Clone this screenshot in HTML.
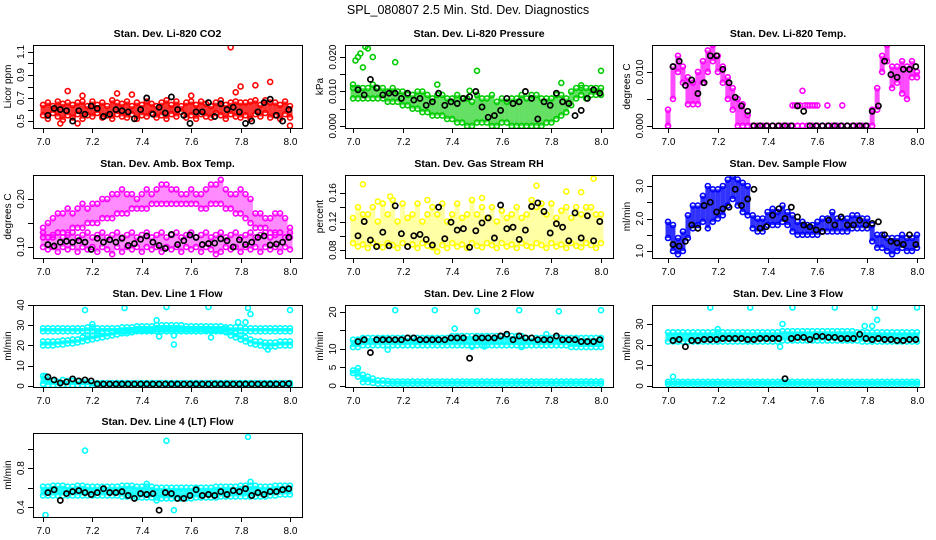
<!DOCTYPE html>
<html><head><meta charset="utf-8"><title>SPL_080807 Std. Dev. Diagnostics</title>
<style>
html,body{margin:0;padding:0;background:#fff;}
svg{display:block;font-family:"Liberation Sans",Arial,sans-serif;}
</style></head>
<body>
<svg id="chart" width="936" height="540" viewBox="0 0 936 540" xmlns="http://www.w3.org/2000/svg">
<rect width="936" height="540" fill="#fff"/>
<text x="468" y="14" text-anchor="middle" font-size="12.5">SPL_080807  2.5 Min. Std. Dev. Diagnostics</text>
</svg>
<script>
// ---- time axes (hours) ----
const TC = [7,7.02,7.04,7.06,7.08,7.1,7.12,7.14,7.16,7.18,7.2,7.22,7.24,7.26,7.28,7.3,7.32,7.34,7.36,7.38,7.4,7.42,7.44,7.46,7.48,7.5,7.52,7.54,7.56,7.58,7.6,7.62,7.64,7.66,7.68,7.7,7.72,7.74,7.76,7.78,7.8,7.82,7.84,7.86,7.88,7.9,7.92,7.94,7.96,7.98,8];
const TK = [7.02,7.045,7.07,7.095,7.12,7.145,7.17,7.195,7.22,7.245,7.27,7.295,7.32,7.345,7.37,7.395,7.42,7.445,7.47,7.495,7.52,7.545,7.57,7.595,7.62,7.645,7.67,7.695,7.72,7.745,7.77,7.795,7.82,7.845,7.87,7.895,7.92,7.945,7.97,7.995];
const xTicks = [7.0,7.2,7.4,7.6,7.8,8.0];

// ---- CO2 ----
const co2Hi = [0.64,0.66,0.63,0.67,0.65,0.66,0.64,0.66,0.67,0.63,0.67,0.64,0.66,0.63,0.68,0.66,0.65,0.67,0.63,0.66,0.64,0.67,0.65,0.63,0.66,0.68,0.64,0.67,0.63,0.66,0.67,0.64,0.67,0.65,0.63,0.66,0.68,0.64,0.66,0.67,0.66,0.66,0.67,0.68,0.64,0.68,0.66,0.66,0.64,0.67,0.63];
const co2Lo = [0.55,0.52,0.57,0.54,0.51,0.55,0.53,0.56,0.52,0.55,0.54,0.57,0.53,0.55,0.52,0.56,0.54,0.53,0.56,0.52,0.55,0.54,0.57,0.53,0.55,0.52,0.56,0.54,0.58,0.53,0.55,0.52,0.56,0.54,0.53,0.57,0.55,0.52,0.56,0.54,0.53,0.55,0.52,0.56,0.54,0.57,0.53,0.55,0.52,0.56,0.53];
const co2OutT = [7.1,7.16,7.3,7.36,7.6,7.76,7.78,7.8,7.86,7.92,8.0,7.07,7.14];
const co2OutV = [0.76,0.72,0.74,0.73,0.72,1.14,0.75,0.80,0.81,0.84,0.46,0.48,0.48];
const co2K = [0.55,0.61,0.60,0.59,0.50,0.59,0.56,0.63,0.61,0.54,0.56,0.60,0.59,0.58,0.52,0.60,0.70,0.56,0.62,0.57,0.71,0.60,0.55,0.48,0.58,0.58,0.66,0.54,0.65,0.60,0.62,0.58,0.48,0.50,0.58,0.66,0.69,0.55,0.50,0.60];
// ---- Pressure ----
const presHi = [0.011,0.011,0.011,0.011,0.012,0.011,0.011,0.010,0.011,0.010,0.010,0.009,0.009,0.010,0.010,0.009,0.008,0.009,0.009,0.008,0.008,0.009,0.008,0.008,0.007,0.009,0.008,0.008,0.009,0.007,0.008,0.007,0.008,0.008,0.009,0.008,0.009,0.009,0.008,0.008,0.008,0.009,0.009,0.008,0.010,0.011,0.011,0.011,0.011,0.011,0.011];
const presLo = [0.008,0.008,0.008,0.008,0.008,0.008,0.008,0.007,0.007,0.007,0.006,0.006,0.005,0.005,0.004,0.004,0.003,0.003,0.003,0.002,0.002,0.001,0.001,0.000,0.000,0.001,0.001,0.001,0.000,0.000,0.001,0.001,0.000,0.000,0.000,0.000,0.000,0.000,0.000,0.001,0.001,0.002,0.003,0.004,0.006,0.008,0.009,0.008,0.009,0.009,0.009];
const presOutT = [7.0,7.01,7.02,7.03,7.05,7.06,7.04,7.08,7.17,7.34,7.47,7.5,7.84,7.92,8.0];
const presOutV = [0.012,0.019,0.020,0.021,0.023,0.0225,0.017,0.020,0.0185,0.012,0.0102,0.016,0.0125,0.0118,0.016];
const presK = [0.0105,0.009,0.0135,0.011,0.009,0.0095,0.0095,0.008,0.0095,0.0075,0.008,0.006,0.007,0.0095,0.006,0.007,0.0065,0.008,0.0085,0.010,0.0055,0.0025,0.003,0.0045,0.008,0.0065,0.007,0.010,0.008,0.002,0.007,0.006,0.0095,0.007,0.0065,0.003,0.0045,0.008,0.0105,0.0095];
// ---- Li-820 Temp ----
const tempHi = [0.003,0.011,0.013,0.011,0.009,0.008,0.010,0.012,0.014,0.015,0.013,0.011,0.009,0.007,0.005,0.004,0.002,0,0,0,0,0,0,0,0,0,0,0,0,0,0,0,0,0,0,0,0,0,0,0,0,0.003,0.007,0.013,0.015,0.011,0.011,0.012,0.011,0.012,0.010];
const tempLo = [0,0.005,0.010,0.008,0.004,0.004,0.004,0.008,0.010,0.012,0.010,0.008,0.005,0.003,0,0,0,0,0,0,0,0,0,0,0,0,0,0,0,0,0,0,0,0,0,0,0,0,0,0,0,0,0.003,0.010,0.012,0.007,0.008,0.006,0.005,0.009,0.009];
const tempOutT = [7.5,7.51,7.52,7.53,7.54,7.55,7.56,7.57,7.58,7.59,7.6,7.64,7.7,7.0];
const tempOutV = [0.0038,0.0038,0.0038,0.0038,0.0065,0.0038,0.0038,0.0038,0.0038,0.0038,0.0038,0.0038,0.0038,0];
const tempK = [0.011,0.012,0.0075,0.0085,0.006,0.008,0.013,0.013,0.0105,0.008,0.0053,0.0037,0.0027,0,0,0,0,0,0,0,0.0037,0.0027,0,0,0,0,0,0,0,0,0,0,0.0027,0.0037,0.012,0.0095,0.009,0.0105,0.0105,0.011];
// ---- Amb Box Temp ----
const ambUpHi = [0.14,0.15,0.16,0.17,0.17,0.18,0.17,0.18,0.19,0.18,0.19,0.19,0.20,0.20,0.21,0.21,0.22,0.21,0.21,0.20,0.21,0.22,0.21,0.22,0.23,0.23,0.22,0.22,0.21,0.21,0.22,0.21,0.21,0.22,0.23,0.23,0.24,0.22,0.21,0.21,0.22,0.21,0.20,0.17,0.17,0.16,0.16,0.17,0.17,0.16,0.14];
const ambUpLo = [0.12,0.12,0.12,0.13,0.13,0.13,0.14,0.14,0.14,0.15,0.15,0.15,0.16,0.16,0.16,0.17,0.17,0.17,0.18,0.18,0.18,0.18,0.19,0.19,0.19,0.19,0.19,0.19,0.19,0.19,0.19,0.19,0.18,0.18,0.19,0.19,0.19,0.18,0.18,0.17,0.17,0.16,0.15,0.14,0.14,0.14,0.13,0.13,0.13,0.12,0.12];
const ambLowHi = [0.13,0.12,0.125,0.13,0.12,0.125,0.13,0.12,0.125,0.13,0.12,0.125,0.13,0.12,0.125,0.13,0.12,0.125,0.13,0.12,0.125,0.13,0.12,0.125,0.13,0.12,0.125,0.13,0.12,0.125,0.13,0.12,0.125,0.13,0.12,0.125,0.13,0.12,0.125,0.13,0.12,0.125,0.13,0.12,0.125,0.13,0.12,0.125,0.13,0.12,0.13];
const ambLowLo = [0.10,0.095,0.10,0.09,0.10,0.095,0.10,0.09,0.10,0.095,0.10,0.09,0.10,0.095,0.085,0.10,0.09,0.10,0.095,0.10,0.09,0.10,0.095,0.10,0.09,0.10,0.095,0.10,0.09,0.10,0.095,0.10,0.09,0.10,0.095,0.085,0.09,0.10,0.095,0.10,0.09,0.10,0.095,0.10,0.09,0.10,0.095,0.10,0.09,0.10,0.095];
const ambK = [0.105,0.102,0.11,0.112,0.11,0.113,0.11,0.095,0.118,0.11,0.115,0.11,0.118,0.103,0.107,0.116,0.123,0.11,0.103,0.097,0.126,0.105,0.113,0.125,0.12,0.105,0.107,0.108,0.117,0.113,0.10,0.115,0.105,0.11,0.12,0.123,0.104,0.106,0.11,0.12];
// ---- Gas Stream RH ----
const rhHi = [0.125,0.14,0.13,0.13,0.14,0.12,0.145,0.13,0.15,0.12,0.145,0.125,0.13,0.145,0.12,0.13,0.14,0.13,0.145,0.12,0.13,0.145,0.125,0.13,0.15,0.13,0.14,0.125,0.14,0.12,0.135,0.125,0.13,0.14,0.125,0.13,0.15,0.14,0.145,0.13,0.145,0.125,0.135,0.14,0.125,0.14,0.13,0.14,0.14,0.13,0.13];
const rhLo = [0.09,0.085,0.088,0.083,0.09,0.086,0.084,0.09,0.087,0.083,0.09,0.085,0.088,0.083,0.09,0.086,0.084,0.078,0.087,0.083,0.09,0.085,0.088,0.083,0.09,0.086,0.084,0.09,0.087,0.083,0.09,0.085,0.088,0.083,0.09,0.086,0.084,0.09,0.087,0.083,0.09,0.085,0.088,0.083,0.09,0.086,0.084,0.09,0.087,0.083,0.09];
const rhOutT = [7.04,7.15,7.74,7.86,7.92,7.97,7.1,7.3,7.52];
const rhOutV = [0.172,0.155,0.17,0.162,0.161,0.18,0.148,0.15,0.153];
const rhK = [0.10,0.12,0.094,0.085,0.105,0.086,0.142,0.103,0.085,0.10,0.102,0.095,0.087,0.14,0.096,0.119,0.108,0.11,0.084,0.107,0.118,0.125,0.097,0.143,0.11,0.112,0.095,0.108,0.141,0.146,0.134,0.104,0.117,0.112,0.093,0.132,0.097,0.128,0.093,0.12];
// ---- Sample Flow ----
const sfHi = [1.9,1.8,1.4,1.6,2.1,2.4,2.4,2.7,3.0,2.9,2.9,3.0,3.2,3.3,3.2,3.1,3.0,2.1,2.0,2.0,2.2,2.3,2.2,2.4,2.2,2.1,1.9,1.9,1.8,1.8,1.9,2.0,2.0,2.2,2.0,2.0,2.0,2.1,2.1,2.0,2.0,1.8,1.5,1.5,1.4,1.4,1.4,1.5,1.4,1.4,1.5];
const sfLo = [1.4,1.0,0.9,1.0,1.4,1.7,1.8,1.9,1.7,1.9,2.0,2.1,2.4,2.6,2.4,2.2,2.1,1.7,1.6,1.6,1.8,1.8,1.8,1.9,1.8,1.6,1.5,1.5,1.5,1.5,1.5,1.6,1.6,1.6,1.6,1.6,1.6,1.7,1.7,1.7,1.7,1.3,1.1,1.1,1.0,0.9,1.0,1.1,1.0,1.0,1.1];
const sfK = [1.2,1.15,1.3,1.8,1.7,2.4,2.5,2.2,2.3,2.35,2.9,2.4,2.6,2.9,1.7,1.75,2.1,2.3,2.0,2.35,2.05,1.8,1.75,1.65,1.6,1.95,1.8,2.05,1.8,1.8,1.95,1.8,1.85,1.9,1.5,1.3,1.25,1.2,1.5,1.2];
// ---- Line 1 ----
const l1TopHi = [28.5,28.5,28.5,28.5,28.5,28.5,28.5,28.5,28.5,29,29,28.5,28.5,28.5,28.5,28.5,29,29,29,29.5,29.5,29.5,29.5,30,30,30,30,30,30,29.5,29.5,29.5,29.5,29.5,29.5,29.5,29.5,29,29,29,29,28.5,28.5,28.5,28.5,28.5,28.5,28.5,28.5,28.5,28.5];
const l1TopLo = [27,27,27,27,27,27,27,27,27,27,27,27,27,27,27,27,27,27,27.5,27.5,27.5,27.5,27.5,28,28,28,28,28,28,28,28,28,28,27.5,27.5,27.5,27.5,27,27,27,27,27,27,27,27,27,27,27,27,27,27];
const l1MidHi = [22,22,22,22,22.5,22.5,23,23,24,25,25,25.5,26,26,26.5,27,27,27.5,27.5,28,28,28,28,28.5,28.5,28.5,28.5,28.5,28,28,28,28,28,28,28,28,28,28,27,26,25,24,23,22,22,21.5,21.5,21.5,22,22,22];
const l1MidLo = [20,20,20,20.5,20.5,21,21,21.5,22,22.5,23,23.5,24,24.5,25,25.5,26,26,26.5,27,27,27,27,27,27,27,27,27,27,27,27,27,27,27,27,27,27,26.5,25,24,23,22,21,20.5,20,19.5,19.5,19.5,20,20,20];
const l1LowHi = [5,3,2.5,2,3,2.5,2.5,2.5,2,2,1.5,1.5,1.5,1.5,1.5,1.5,1.5,1.5,1.5,1.5,1.5,1.5,1.5,1.5,1.5,1.5,1.5,1.5,1.5,1.5,1.5,1.5,1.5,1.5,1.5,1.5,1.5,1.5,1.5,1.5,1.5,1.5,1.5,1.5,1.5,1.5,1.5,1.5,1.5,1.5,1.5];
const l1LowLo = [1,0.5,0.5,0.5,0.5,0.5,0.5,0.5,0.5,0.5,0.5,0.5,0.5,0.5,0.5,0.5,0.5,0.5,0.5,0.5,0.5,0.5,0.5,0.5,0.5,0.5,0.5,0.5,0.5,0.5,0.5,0.5,0.5,0.5,0.5,0.5,0.5,0.5,0.5,0.5,0.5,0.5,0.5,0.5,0.5,0.5,0.5,0.5,0.5,0.5,0.5];
const l1OutT = [7.01,7.17,7.2,7.33,7.46,7.47,7.5,7.53,7.53,7.67,7.68,7.79,7.82,7.83,7.84,7.91,8.0];
const l1OutV = [5,37.5,30.5,38.5,32.5,24.5,39,25,20.5,39,24,31.5,31.5,38.5,35.5,18,37.5];
const l1K = [4.5,3,1.5,2,3.5,2.5,3,2.5,1,1,1,1,1,1,1,1,1,1,1,1,1,1,1,1,1,1,1,1,1,1,1,1,1,1,1,1,1,1,1,1.2];
// ---- Line 2 ----
const l2BandHi = [12.5,12.5,13,13,13,13,13,13,13,13,13,13,13,13,13,13,13,13,13,13,13.5,13.5,13.5,13.5,13.5,13.5,13.5,13.5,13.5,13.5,13.5,13.5,13.5,13.5,13.5,13,13,13,13,13,13,13,13,13,13,13,13,13,13,13,13];
const l2BandLo = [10.5,10.5,11,11,11,11,11,11,11,11,11,11,11,11,11,11,11,11,11,11,11,11,11,11,11,11,11,11,11,11,11,11,11,11,11,11,11,11,11,11,11,11,11,11,10.5,10.5,10.5,10.5,10.5,10.5,10.5];
const l2LowHi = [4.2,4.8,3,2.5,2,1.5,1.5,1.3,1.2,1.2,1.2,1.2,1.2,1.2,1.2,1.2,1.2,1.2,1.2,1.2,1.2,1.2,1.2,1.2,1.2,1.2,1.2,1.2,1.2,1.2,1.2,1.2,1.2,1.2,1.2,1.2,1.2,1.2,1.2,1.2,1.2,1.2,1.2,1.2,1.2,1.2,1.2,1.2,1.2,1.2,1.2];
const l2LowLo = [3.5,2.5,1,1,0.8,0.6,0.6,0.6,0.6,0.6,0.6,0.6,0.6,0.6,0.6,0.6,0.6,0.6,0.6,0.6,0.6,0.6,0.6,0.6,0.6,0.6,0.6,0.6,0.6,0.6,0.6,0.6,0.6,0.6,0.6,0.6,0.6,0.6,0.6,0.6,0.6,0.6,0.6,0.6,0.6,0.6,0.6,0.6,0.6,0.6,0.6];
const l2OutT = [7.17,7.33,7.5,7.67,7.83,8.0,7.41,7.14,7.53,7.68,7.48,7.78];
const l2OutV = [20.5,20.5,20.3,20.5,20.2,20.5,15.5,9.8,10.7,10.5,10.6,14];
const l2K = [12,12.5,9,12.5,12.5,12.5,12.5,12.5,13,13,12.5,12.5,12.5,12.5,12.5,13,13,13,7.5,13,13,13,13,13.5,14,12.5,13.5,13,13,12.5,12.5,12.5,13.5,12.5,12.5,12.5,12,12,12,12.5];
// ---- Line 3 ----
const l3BandHi = [26,26,26,26,26,26,26,26,26,26,26,26,26,26,26,26,26,26,26,26,26,26,26,26.5,26.5,26.5,26.5,26.5,26.5,26.5,26.5,26.5,26.5,26.5,26.5,26.5,26.5,26.5,26,26,26,26,26,26,26,26,26,26,26,26,26];
const l3BandLo = [21.5,21.5,21.5,21.5,21.5,21.5,21.5,21.5,21.5,21.5,21.5,21.5,21.5,21.5,21.5,21.5,21.5,21.5,21.5,21.5,21.5,21.5,21.5,22,22,22,22,22,22,22,22,22,22,22,22,22,22,22,22,21.5,21.5,21.5,21.5,21.5,21.5,21.5,21.5,21.5,21.5,21.5,21.5];
const l3LowHi = [2,2,2,2,2,2,2,2,2,2,2,2,2,2,2,2,2,2,2,2,2,2,2,2,2,2,2,2,2,2,2,2,2,2,2,2,2,2,2,2,2,2,2,2,2,2,2,2,2,2,2];
const l3LowLo = [1,1,1,1,1,1,1,1,1,1,1,1,1,1,1,1,1,1,1,1,1,1,1,1,1,1,1,1,1,1,1,1,1,1,1,1,1,1,1,1,1,1,1,1,1,1,1,1,1,1,1];
const l3OutT = [7.17,7.33,7.5,7.67,7.83,8.0,7.02,7.46,7.45,7.79,7.82,7.84,7.2];
const l3OutV = [38,38,38,38,38,38,4.5,30,19,29,29,32,27.5];
const l3K = [22,22.5,19,22,22,22.5,22.5,22.5,23,23,23,23,22.5,22.5,23,23,23,23,3.5,23,23.5,23.5,22.5,24,24,23.5,23.5,23,23,23,25,23,22.5,23,22.5,22.5,22,22,22.5,22.5];
// ---- Line 4 ----
const l4BandHi = [0.61,0.61,0.62,0.62,0.62,0.61,0.61,0.62,0.62,0.61,0.61,0.61,0.61,0.61,0.61,0.61,0.62,0.62,0.62,0.61,0.61,0.61,0.61,0.6,0.6,0.6,0.6,0.6,0.6,0.6,0.6,0.6,0.6,0.6,0.6,0.61,0.61,0.61,0.61,0.61,0.62,0.62,0.62,0.62,0.61,0.61,0.61,0.62,0.62,0.62,0.62];
const l4BandLo = [0.52,0.52,0.52,0.52,0.52,0.52,0.52,0.52,0.52,0.52,0.52,0.52,0.52,0.52,0.52,0.52,0.51,0.51,0.51,0.5,0.5,0.5,0.5,0.5,0.49,0.49,0.49,0.49,0.49,0.49,0.49,0.5,0.5,0.5,0.5,0.5,0.51,0.51,0.51,0.51,0.51,0.51,0.51,0.51,0.51,0.51,0.52,0.52,0.53,0.53,0.53];
const l4OutT = [7.17,7.5,7.83,7.01,7.53,7.84,7.42,7.46];
const l4OutV = [0.98,1.08,1.12,0.32,0.37,0.66,0.64,0.47];
const l4K = [0.55,0.58,0.47,0.54,0.56,0.57,0.55,0.53,0.55,0.59,0.55,0.55,0.56,0.52,0.49,0.54,0.53,0.54,0.37,0.55,0.54,0.49,0.49,0.52,0.58,0.52,0.53,0.52,0.56,0.53,0.57,0.56,0.59,0.52,0.55,0.53,0.56,0.56,0.58,0.59];

// ---- layout (not data) ----
const COLS = [{l:33,r:302,x7:43,x8:290},{l:345,r:613,x7:353,x8:601},{l:652,r:924,x7:668,x8:917}];
const ROWS = [{t:45,b:128},{t:175,b:258},{t:305,b:387},{t:433,b:517}];

const panels = [
 {name:'co2',title:'Stan. Dev. Li-820 CO2',ylab:'Licor ppm',col:0,row:0,y0:0.44,y1:1.16,ticks:[0.5,0.6,0.7,0.8,0.9,1.0,1.1],labs:[0.5,0.7,0.9,1.1],dec:1,color:'#ff0000',op:0.8,
  bands:[[co2Hi,co2Lo]],out:[co2OutT,co2OutV],k:co2K},
 {name:'pressure',title:'Stan. Dev. Li-820 Pressure',ylab:'kPa',col:1,row:0,y0:-0.0006,y1:0.0235,ticks:[0,0.005,0.01,0.015,0.02],labs:[0,0.01,0.02],dec:3,color:'#00cc00',op:0.6,
  bands:[[presHi,presLo]],out:[presOutT,presOutV],k:presK},
 {name:'li820-temp',title:'Stan. Dev. Li-820 Temp.',ylab:'degrees C',col:2,row:0,y0:-0.0004,y1:0.015,ticks:[0,0.005,0.01],labs:[0,0.01],dec:3,color:'#ff00ff',op:0.7,
  bands:[[tempHi,tempLo]],out:[tempOutT,tempOutV],k:tempK},
 {name:'amb-box-temp',title:'Stan. Dev. Amb. Box Temp.',ylab:'degrees C',col:0,row:1,y0:0.077,y1:0.25,ticks:[0.1,0.15,0.2],labs:[0.1,0.2],dec:2,color:'#ff00ff',op:0.45,
  bands:[[ambUpHi,ambUpLo],[ambLowHi,ambLowLo]],out:null,k:ambK},
 {name:'gas-stream-rh',title:'Stan. Dev. Gas Stream RH',ylab:'percent',col:1,row:1,y0:0.069,y1:0.185,ticks:[0.08,0.1,0.12,0.14,0.16],labs:[0.08,0.12,0.16],dec:2,color:'#ffff00',op:0.35,
  bands:[[rhHi,rhLo]],out:[rhOutT,rhOutV],k:rhK},
 {name:'sample-flow',title:'Stan. Dev. Sample Flow',ylab:'ml/min',col:2,row:1,y0:0.785,y1:3.34,ticks:[1,1.5,2,2.5,3],labs:[1,2,3],dec:1,color:'#0000ff',op:0.8,
  bands:[[sfHi,sfLo]],out:null,k:sfK},
 {name:'line1-flow',title:'Stan. Dev. Line 1 Flow',ylab:'ml/min',col:0,row:2,y0:-0.5,y1:40,ticks:[0,10,20,30,40],labs:[0,10,20,30,40],dec:0,color:'#00ffff',op:0.85,
  bands:[[l1TopHi,l1TopLo],[l1MidHi,l1MidLo],[l1LowHi,l1LowLo]],out:[l1OutT,l1OutV],k:l1K},
 {name:'line2-flow',title:'Stan. Dev. Line 2 Flow',ylab:'ml/min',col:1,row:2,y0:-0.3,y1:21.9,ticks:[0,5,10,15,20],labs:[0,5,10,20],dec:0,color:'#00ffff',op:0.85,
  bands:[[l2BandHi,l2BandLo],[l2LowHi,l2LowLo]],out:[l2OutT,l2OutV],k:l2K},
 {name:'line3-flow',title:'Stan. Dev. Line 3 Flow',ylab:'ml/min',col:2,row:2,y0:-0.5,y1:39.2,ticks:[0,10,20,30],labs:[0,10,20,30],dec:0,color:'#00ffff',op:0.85,
  bands:[[l3BandHi,l3BandLo],[l3LowHi,l3LowLo]],out:[l3OutT,l3OutV],k:l3K},
 {name:'line4-lt-flow',title:'Stan. Dev. Line 4 (LT) Flow',ylab:'ml/min',col:0,row:3,y0:0.30,y1:1.16,ticks:[0.4,0.6,0.8,1.0],labs:[0.4,0.8],dec:1,color:'#00ffff',op:0.85,
  bands:[[l4BandHi,l4BandLo]],out:[l4OutT,l4OutV],k:l4K}
];

const NS = 'http://www.w3.org/2000/svg';
const svg = document.getElementById('chart');
function mk(tag, attrs, parent){
  const e = document.createElementNS(NS, tag);
  for (const a in attrs) e.setAttribute(a, attrs[a]);
  parent.appendChild(e);
  return e;
}
function circ(g, cx, cy, color){
  const c = mk('circle', {cx:cx.toFixed(1), cy:cy.toFixed(1), r:2.5, fill:'none', stroke:color, 'stroke-width':1.6}, g);
  
  
}

panels.forEach(p => {
  const C = COLS[p.col], R = ROWS[p.row];
  const xs = t => C.x7 + (t - 7) * (C.x8 - C.x7);
  const ys = v => R.b - (v - p.y0) / (p.y1 - p.y0) * (R.b - R.t);
  const g = mk('g', {}, svg);
  
  
  const clip = mk('clipPath', {id:'clip-' + p.name}, g);
  mk('rect', {x:C.l, y:R.t, width:C.r - C.l, height:R.b - R.t}, clip);
  const plot = mk('g', {'clip-path':'url(#clip-' + p.name + ')'}, g);
  
  
  p.bands.forEach(([hi, lo]) => {
    TC.forEach((t, i) => {
      const ln = mk('line', {x1:xs(t), x2:xs(t), y1:ys(lo[i]), y2:ys(hi[i]), stroke:p.color, 'stroke-width':5, opacity:p.op}, plot);
      
      
    });
    TC.forEach((t, i) => { circ(plot, xs(t), ys(hi[i]), p.color); circ(plot, xs(t), ys(lo[i]), p.color); });
  });
  if (p.out) p.out[0].forEach((t, i) => circ(plot, xs(t), ys(p.out[1][i]), p.color));
  p.k.forEach((v, i) => {
    const c = mk('circle', {cx:xs(TK[i]).toFixed(1), cy:ys(v).toFixed(1), r:2.6, fill:'none', stroke:'#000', 'stroke-width':1.7}, plot);
    
    
  });
  const box = mk('rect', {x:C.l + 0.5, y:R.t + 0.5, width:C.r - C.l, height:R.b - R.t, fill:'none', stroke:'#000', 'stroke-width':1}, g);
  
  
  xTicks.forEach(t => {
    const x = Math.round(xs(t)) + 0.5;
    mk('line', {x1:x, x2:x, y1:R.b, y2:R.b + 5, stroke:'#000'}, g);
    const tx = mk('text', {x:x, y:R.b + 17, 'text-anchor':'middle', 'font-size':10}, g);
    tx.textContent = t.toFixed(1);
    
    
  });
  p.ticks.forEach(v => {
    const y = Math.round(ys(v)) + 0.5;
    mk('line', {x1:C.l - 5, x2:C.l, y1:y, y2:y, stroke:'#000'}, g);
  });
  p.labs.forEach(v => {
    const y = ys(v);
    const tx = mk('text', {x:C.l - 9, y:y, 'text-anchor':'middle', 'font-size':10, transform:'rotate(-90 ' + (C.l - 9) + ' ' + y + ')'}, g);
    tx.textContent = v.toFixed(p.dec);
    
    
  });
  const yl = (R.t + R.b) / 2, xl = C.l - 22;
  const ylab = mk('text', {x:xl, y:yl, 'text-anchor':'middle', 'font-size':10, transform:'rotate(-90 ' + xl + ' ' + yl + ')'}, g);
  ylab.textContent = p.ylab;
  
  
  const ti = mk('text', {x:(C.l + C.r) / 2, y:R.t - 8, 'text-anchor':'middle', 'font-size':10.5, 'font-weight':'bold'}, g);
  ti.textContent = p.title;
  
  
});
</script>
</body></html>
